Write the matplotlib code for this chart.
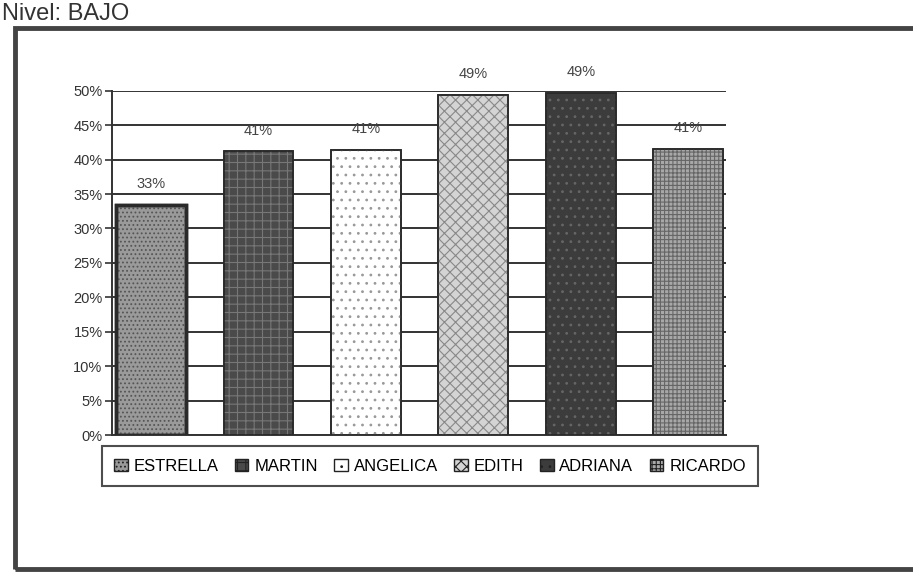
import matplotlib
matplotlib.use('Agg')
import matplotlib.pyplot as plt
from matplotlib.patches import Rectangle, Patch

plt.rcParams['font.family'] = ['Liberation Sans', 'DejaVu Sans']
plt.rcParams['hatch.linewidth'] = 0.8

# data
names = ['ESTRELLA', 'MARTIN', 'ANGELICA', 'EDITH', 'ADRIANA', 'RICARDO']
values = [33.4, 41.2, 41.4, 49.4, 49.7, 41.6]
labels = ['33%', '41%', '41%', '49%', '49%', '41%']
yticks = [0, 5, 10, 15, 20, 25, 30, 35, 40, 45, 50]

# look of each bar (fill, hatch, hatch colour)
fills = ['#9a9a9a', '#4a4a4a', '#ffffff', '#d4d4d4', '#3c3c3c', '#a8a8a8']
hatches = ['....', '++', '..', 'xxx', '..', '++++']
hcols = ['#555555', '#777777', '#999999', '#888888', '#666666', '#666666']

fig = plt.figure(figsize=(9.13, 5.74), dpi=100)

# outer border of the pasted chart
fig.patches.append(Rectangle((0.016, 0.008), 1.1, 0.944, transform=fig.transFigure,
                             fill=False, edgecolor='#444444', linewidth=3.5))
fig.text(0.002, 0.966, 'Nivel: BAJO', fontsize=17, color='#333333', va='baseline', ha='left')

ax = fig.add_axes([0.123, 0.242, 0.672, 0.60])
x = list(range(len(names)))
for i in x:
    ax.bar(i, values[i], width=0.65, color=fills[i], edgecolor='#2a2a2a',
           linewidth=2.5 if i == 0 else 1.2, zorder=3)
    ax.bar(i, values[i], width=0.65, color='none', edgecolor=hcols[i],
           hatch=hatches[i], linewidth=0, zorder=3)
    ax.bar(i, values[i], width=0.65, color='none', edgecolor='#2a2a2a',
           linewidth=2.5 if i == 0 else 1.2, zorder=4)
    ax.text(i, values[i] + 2.0, labels[i], ha='center', va='bottom', fontsize=10.5,
            color='#444444')

ax.set_xlim(-0.36, 5.35)
ax.set_ylim(0, 50)
ax.set_yticks(yticks)
ax.set_yticklabels([str(v) + '%' for v in yticks], fontsize=10.5, color='#333333')
ax.set_xticks([])
ax.yaxis.grid(True, color='#333333', linewidth=1.4, zorder=0)
ax.set_axisbelow(True)
ax.tick_params(axis='y', length=5, width=1.2, color='#333333', pad=2)
for s in ['top', 'right']:
    ax.spines[s].set_visible(False)
ax.spines['left'].set_color('#333333')
ax.spines['left'].set_linewidth(1.4)
ax.spines['bottom'].set_color('#333333')
ax.spines['bottom'].set_linewidth(1.4)

handles = [Patch(facecolor=fills[i], edgecolor='#222222', hatch=hatches[i], label=names[i])
           for i in x]
leg = fig.legend(handles=handles, ncol=6, loc='center', bbox_to_anchor=(0.471, 0.188),
                 fontsize=12, frameon=True, fancybox=False, edgecolor='#222222',
                 handlelength=0.8, handleheight=0.8, handletextpad=0.35,
                 columnspacing=1.0, borderpad=0.75)
leg.get_frame().set_linewidth(1.5)

fig.savefig('out.png', dpi=100)
